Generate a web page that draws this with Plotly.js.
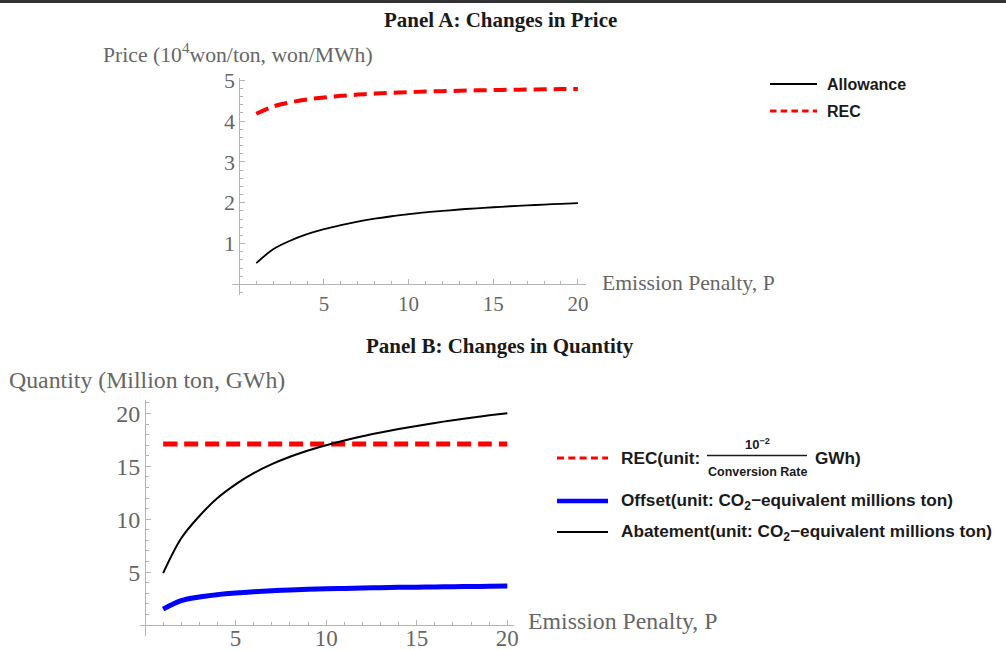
<!DOCTYPE html>
<html>
<head>
<meta charset="utf-8">
<script src="https://cdn.plot.ly/plotly-3.0.1.min.js"></script>
<style>
  html, body { margin: 0; padding: 0; background: #ffffff; }
  #chart { width: 1006px; height: 650px; }
</style>
</head>
<body>
<div id="chart"></div>
<script>
// Emission penalty P (shared x values of both panels)
const penalty = [1, 2, 3, 4, 5, 6, 7, 8, 9, 10, 11, 12, 13, 14, 15, 16, 17, 18, 19, 20];

// Panel A: prices (10^4 won/ton, won/MWh)
const allowancePrice = [0.52, 0.86, 1.07, 1.23, 1.355, 1.455, 1.54, 1.61, 1.67, 1.72,
                        1.765, 1.80, 1.835, 1.865, 1.89, 1.915, 1.935, 1.955, 1.975, 1.99];
const recPrice = [4.18, 4.36, 4.46, 4.53, 4.58, 4.62, 4.65, 4.675, 4.695, 4.71,
                  4.725, 4.735, 4.745, 4.755, 4.762, 4.768, 4.774, 4.78, 4.785, 4.79];

// Panel B: quantities (million ton, GWh)
const recQuantity = [17.1, 17.1, 17.1, 17.1, 17.1, 17.1, 17.1, 17.1, 17.1, 17.1,
                     17.1, 17.1, 17.1, 17.1, 17.1, 17.1, 17.1, 17.1, 17.1, 17.1];
const offsetQuantity = [1.5, 2.3, 2.65, 2.87, 3.03, 3.15, 3.24, 3.31, 3.37, 3.42,
                        3.46, 3.5, 3.53, 3.56, 3.58, 3.6, 3.62, 3.64, 3.66, 3.68];
const abatementQuantity = [4.9, 8.2, 10.3, 12.0, 13.3, 14.35, 15.2, 15.9, 16.5, 17.0,
                           17.45, 17.85, 18.2, 18.52, 18.82, 19.1, 19.36, 19.6, 19.82, 20.02];

// Tick labels
const xTicks = [5, 10, 15, 20];
const yTicksA = [1, 2, 3, 4, 5];
const yTicksB = [5, 10, 15, 20];

// Text
const titleA = 'Panel A: Changes in Price';
const titleB = 'Panel B: Changes in Quantity';
const yLabelA = 'Price (10<sup>4</sup>won/ton, won/MWh)';
const yLabelB = 'Quantity (Million ton, GWh)';
const xLabel = 'Emission Penalty, P';
const legendA = ['Allowance', 'REC'];
const legendB = ['REC(unit:', 'GWh)', 'Offset(unit: CO<sub>2</sub>\u2212equivalent millions ton)',
                 'Abatement(unit: CO<sub>2</sub>\u2212equivalent millions ton)'];
const recFraction = ['10<sup>\u22122</sup>', 'Conversion Rate'];

// pixel -> paper helpers for the 1006 x 650 canvas
const W = 1006, H = 650;
const px = v => v / W;
const py = v => 1 - v / H;

const SERIF = 'Liberation Serif, Times New Roman, serif';
const SANS = 'Liberation Sans, Arial, sans-serif';
const AXIS_GREY = '#b4b4b4';
const TEXT_GREY = '#666666';

const curve = (x, y, color, width, dash, xa, ya) => ({
  type: 'scatter', mode: 'lines', x: x, y: y,
  xaxis: xa, yaxis: ya, showlegend: false, hoverinfo: 'skip',
  line: { color: color, width: width, dash: dash, shape: 'spline', smoothing: 1 }
});

const traces = [
  curve(penalty, allowancePrice, '#000000', 1.8, 'solid', 'x', 'y'),
  curve(penalty, recPrice, '#ff0000', 4, '13px,7px', 'x', 'y'),
  curve(penalty, recQuantity, '#ff0000', 5, '14px,7px', 'x2', 'y2'),
  curve(penalty, offsetQuantity, '#0000ff', 5, 'solid', 'x2', 'y2'),
  curve(penalty, abatementQuantity, '#000000', 2, 'solid', 'x2', 'y2')
];

const axisStyle = (size) => ({
  showline: true, linecolor: AXIS_GREY, linewidth: 1,
  showgrid: false, zeroline: false,
  ticks: 'inside', ticklen: 5, tickwidth: 1, tickcolor: AXIS_GREY,
  tickmode: 'array',
  tickfont: { family: SERIF, size: size, color: TEXT_GREY },
  anchor: 'free', fixedrange: true
});

const layout = {
  width: W, height: H,
  margin: { l: 0, r: 0, t: 0, b: 0 },
  paper_bgcolor: '#ffffff', plot_bgcolor: 'rgba(0,0,0,0)',
  showlegend: false,
  xaxis: Object.assign(axisStyle(21), {
    domain: [px(231.7), px(585.7)], range: [-0.45, 20.46],
    position: 1 - 284.3 / H, tickvals: xTicks,
    minor: { dtick: 1, tick0: 0, ticks: 'inside', ticklen: 3, tickcolor: AXIS_GREY }
  }),
  yaxis: Object.assign(axisStyle(22), {
    domain: [py(295), py(78.3)], range: [-0.26, 5.05],
    position: px(239.3), tickvals: yTicksA,
    minor: { dtick: 0.2, tick0: 0, ticks: 'inside', ticklen: 3, tickcolor: AXIS_GREY }
  }),
  xaxis2: Object.assign(axisStyle(23), {
    domain: [px(139.6), px(514.4)], range: [-0.30, 20.39],
    position: 1 - 625 / H, tickvals: xTicks, ticklabelstandoff: -8,
    minor: { dtick: 1, tick0: 0, ticks: 'inside', ticklen: 3, tickcolor: AXIS_GREY }
  }),
  yaxis2: Object.assign(axisStyle(24), {
    domain: [py(636), py(400)], range: [-1.04, 21.27],
    position: px(145), tickvals: yTicksB,
    minor: { dtick: 1, tick0: 0, ticks: 'inside', ticklen: 3, tickcolor: AXIS_GREY }
  }),
  annotations: [],
  shapes: []
};

const note = (text, x, y, font, xanchor) => ({
  text: text, xref: 'paper', yref: 'paper', x: px(x), y: py(y),
  xanchor: xanchor || 'left', yanchor: 'middle', showarrow: false, font: font
});

const titleFont = { family: SERIF, size: 21, color: '#1a1a1a' };
const labelFontA = { family: SERIF, size: 21.7, color: TEXT_GREY };
const labelFontB = { family: SERIF, size: 23.8, color: TEXT_GREY };
const legendFontA = { family: SANS, size: 16, color: '#1a1a1a' };
const legendFontB = { family: SANS, size: 17.2, color: '#1a1a1a' };
const smallFont = { family: SANS, size: 12.5, color: '#1a1a1a' };
const numFont = { family: SANS, size: 13, color: '#1a1a1a' };

layout.annotations.push(
  note('<b>' + titleA + '</b>', 500, 20, titleFont, 'center'),
  note('<b>' + titleB + '</b>', 500, 346, titleFont, 'center'),
  note(yLabelA, 101, 53, labelFontA),
  note(xLabel, 600, 283, labelFontA),
  note(yLabelB, 7, 380, labelFontB),
  note(xLabel, 526, 621, labelFontB),
  // legend texts
  note('<b>' + legendA[0] + '</b>', 825, 84, legendFontA),
  note('<b>' + legendA[1] + '</b>', 825, 111, legendFontA),
  note('<b>' + legendB[0] + '</b>', 619, 458, legendFontB),
  note('<b>' + legendB[1] + '</b>', 813, 458, legendFontB),
  note('<b>' + legendB[2] + '</b>', 619, 501, legendFontB),
  note('<b>' + legendB[3] + '</b>', 619, 532, legendFontB),
  note('<b>' + recFraction[0] + '</b>', 757, 444, numFont, 'center'),
  note('<b>' + recFraction[1] + '</b>', 757, 472, smallFont, 'center')
);

const keyLine = (x0, x1, y, color, width, dash) => ({
  type: 'line', xref: 'paper', yref: 'paper',
  x0: px(x0), x1: px(x1), y0: py(y), y1: py(y),
  line: { color: color, width: width, dash: dash }
});

layout.shapes.push(
  // frame edge along the top of the figure
  { type: 'rect', xref: 'paper', yref: 'paper', x0: 0, x1: 1, y0: py(3), y1: 1,
    fillcolor: '#333333', line: { width: 0 } },
  // legend keys
  keyLine(770, 817, 84, '#000000', 2, 'solid'),
  keyLine(770, 817, 111, '#ff0000', 3, '6.5px,4.2px'),
  keyLine(557, 608, 458, '#ff0000', 3, '7px,4.3px'),
  keyLine(557, 608, 501, '#0000ff', 4.5, 'solid'),
  keyLine(557, 608, 532, '#000000', 2, 'solid'),
  // fraction bar of the REC unit
  keyLine(707, 807, 455.5, '#1a1a1a', 1.5, 'solid')
);

Plotly.newPlot('chart', traces, layout, { displayModeBar: false, staticPlot: true });
</script>
</body>
</html>
